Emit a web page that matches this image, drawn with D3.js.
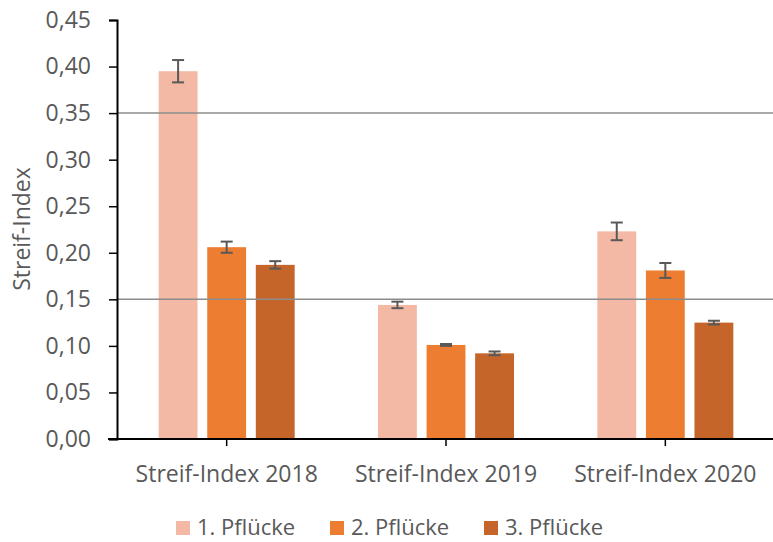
<!DOCTYPE html>
<html><head><meta charset="utf-8">
<script src="https://cdn.jsdelivr.net/npm/d3@7"></script>
<style>body{margin:0;background:#fff}svg{display:block}</style>
</head><body><svg id="c" width="773" height="542"></svg>
<script>
const categories = ["Streif-Index 2018","Streif-Index 2019","Streif-Index 2020"];
const seriesNames = ["1. Pflücke","2. Pflücke","3. Pflücke"];
const values1 = [0.395, 0.144, 0.223];
const values2 = [0.206, 0.101, 0.181];
const values3 = [0.187, 0.092, 0.125];
const errors1 = [0.012, 0.0035, 0.0095];
const errors2 = [0.006, 0.001, 0.008];
const errors3 = [0.004, 0.002, 0.002];
const refLines = [0.35, 0.15];
const yTicks = [0,0.05,0.10,0.15,0.20,0.25,0.30,0.35,0.40,0.45];
const colors = ["#F4B9A5","#ED7D31","#C5652A"];

const FONT='"Open Sans","Noto Sans",sans-serif';
const TXT="#595959";
const vals=[values1,values2,values3], errs=[errors1,errors2,errors3];
const svg=d3.select("#c");
const L=117, R=775, T=20, B=439;
const x=d3.scaleBand().domain(categories).range([L,R]);
const xs=d3.scaleBand().domain(seriesNames).range([-68,68]).paddingInner(0.2);
const y=d3.scaleLinear().domain([0,0.45]).range([B,T]);

seriesNames.forEach((s,si)=>{
  svg.append("g").selectAll("rect").data(categories).join("rect")
    .attr("x",(c)=>x(c)+x.bandwidth()/2+xs(s))
    .attr("width",xs.bandwidth())
    .attr("y",(c,i)=>y(vals[si][i]))
    .attr("height",(c,i)=>B-y(vals[si][i]))
    .attr("fill",colors[si]);
});
svg.append("g").selectAll("line").data(refLines).join("line")
  .attr("x1",L).attr("x2",773).attr("y1",d=>y(d)).attr("y2",d=>y(d))
  .attr("stroke","#8c8c8c").attr("stroke-width",1.5);
seriesNames.forEach((s,si)=>{
  const g=svg.append("g").attr("stroke","#595959").attr("stroke-width",2);
  categories.forEach((c,i)=>{
    const cx=x(c)+x.bandwidth()/2+xs(s)+xs.bandwidth()/2;
    const v=vals[si][i], e=errs[si][i];
    g.append("line").attr("x1",cx).attr("x2",cx).attr("y1",y(v+e)).attr("y2",y(v-e));
    g.append("line").attr("x1",cx-6).attr("x2",cx+6).attr("y1",y(v+e)).attr("y2",y(v+e));
    g.append("line").attr("x1",cx-6).attr("x2",cx+6).attr("y1",y(v-e)).attr("y2",y(v-e));
  });
});
const fmt=d=>d.toFixed(2).replace(".",",");
const ya=svg.append("g").attr("transform",`translate(${L},0)`)
  .call(d3.axisLeft(y).tickValues(yTicks).tickFormat(fmt).tickSizeOuter(0).tickSize(8).tickPadding(18));
ya.attr("font-size",null).attr("font-family",null);
ya.select(".domain").attr("stroke","#000").attr("stroke-width",2);
ya.selectAll(".tick line").attr("stroke","#000").attr("stroke-width",1.5);
ya.selectAll("text").attr("font-size",23).attr("font-family",FONT).attr("fill",TXT);
const xa=svg.append("g").attr("transform",`translate(0,${B})`)
  .call(d3.axisBottom(x).tickSizeOuter(0).tickSize(7).tickPadding(20));
xa.attr("font-size",null).attr("font-family",null);
xa.select(".domain").attr("d",`M${L-9},0H773`).attr("stroke","#000").attr("stroke-width",2);
xa.selectAll(".tick line").attr("stroke","#000").attr("stroke-width",1.5);
xa.selectAll("text").attr("font-size",23).attr("font-family",FONT).attr("fill",TXT);
svg.append("text").attr("transform","translate(30,229) rotate(-90)").attr("text-anchor","middle")
  .attr("font-size",23).attr("font-family",FONT).attr("fill",TXT).text("Streif-Index");
const lx=[176,330,484];
const lg=svg.append("g");
seriesNames.forEach((s,i)=>{
  lg.append("rect").attr("x",lx[i]).attr("y",521).attr("width",14).attr("height",14).attr("fill",colors[i]);
  lg.append("text").attr("x",lx[i]+21).attr("y",535).attr("font-size",22).attr("font-family",FONT).attr("fill",TXT).text(s);
});
</script></body></html>
